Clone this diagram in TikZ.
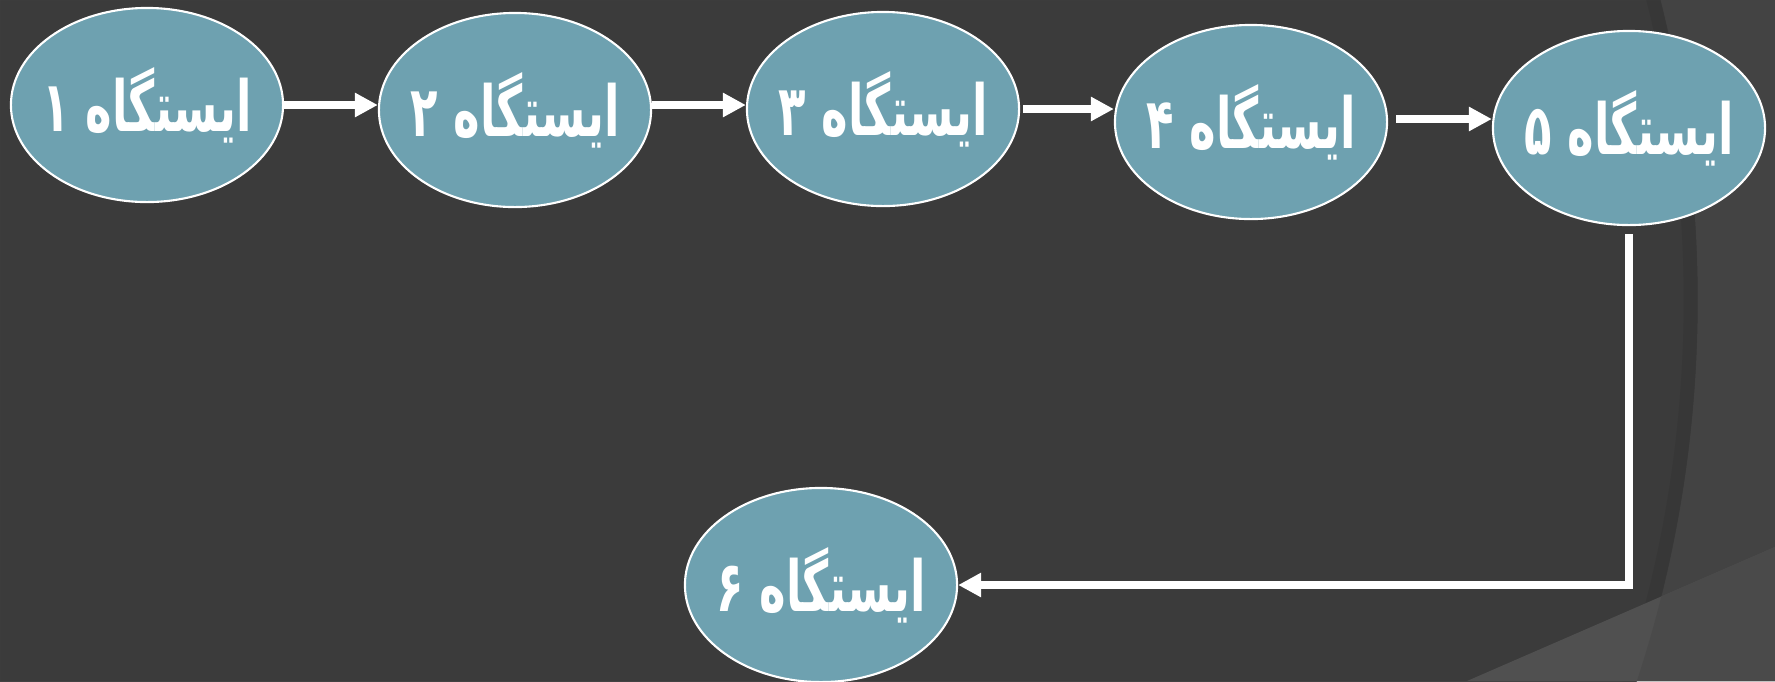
\documentclass[tikz,border=0pt]{standalone}
\usepackage{fontspec}
\usepackage{xcolor}
\usetikzlibrary{shapes.geometric,arrows.meta}
\TeXXeTstate=1
\newfontfamily\fafont[Script=Arabic]{DejaVu Sans}
\definecolor{backdrop}{HTML}{3B3B3B}
\definecolor{backlight}{HTML}{434343}
\definecolor{bandleft}{HTML}{505050}
\definecolor{bandright}{HTML}{4A4A4A}
\definecolor{accent}{HTML}{6EA1B0}
\newcommand{\stationtext}[1]{\makebox[0pt]{\scalebox{0.64}[1]{\beginR ایستگاه #1\endR}}}

\tikzset{
    station/.style={ellipse, fill=accent, draw=white, line width=0.6pt,
        minimum width=2.72cm, minimum height=1.94cm, inner sep=0pt,
        text=white, font=\fafont\bfseries\fontsize{20}{24}\selectfont},
    flow/.style={draw=white, line width=0.08cm,
        -{Triangle[length=0.23cm,width=0.23cm]}}
}

\begin{document}
\begin{tikzpicture}[x=0.01cm, y=-0.01cm]
        \useasboundingbox (0,0) rectangle (1775,681);
        % background
        \fill[backdrop] (0,0) rectangle (1775,681);
        \begin{scope}
            \clip (0,0) rectangle (1775,681);
            \fill[backlight, even odd rule] (0,0) rectangle (1775,681)
                (481,300) circle [radius=12.16cm];
            \draw[black, opacity=0.06, line width=0.14cm] (474,300) circle [radius=12.16cm];
            \fill[bandleft] (1775,547) -- (1467,681) -- (1775,681) -- cycle;
            \clip (1775,547) -- (1467,681) -- (1775,681) -- cycle;
            \fill[bandright, even odd rule] (0,0) rectangle (1775,681)
                (481,300) circle [radius=12.16cm];
        \end{scope}
        % stations
        \node[station] (st1) at (147,105) {\stationtext{۱}};
        \node[station] (st2) at (515,110) {\stationtext{۲}};
        \node[station] (st3) at (883,109) {\stationtext{۳}};
        \node[station] (st4) at (1251,122) {\stationtext{۴}};
        \node[station] (st5) at (1629,128) {\stationtext{۵}};
        \node[station] (st6) at (821,585) {\stationtext{۶}};
        % connectors
        \draw[flow] (st1.east) -- (st1.east -| st2.west);
        \draw[flow] (st2.east |- st1.east) -- (st3.west |- st1.east);
        \draw[flow, shorten <=0.03cm] (st3.east) -- (st3.east -| st4.west);
        \draw[flow, shorten <=0.08cm] ([yshift=0.03cm]st4.east) -- ([yshift=0.03cm]st4.east -| st5.west);
        \draw[flow, shorten <=0.08cm] (st5.south) |- (st6.east);
    \end{tikzpicture}
\end{document}
